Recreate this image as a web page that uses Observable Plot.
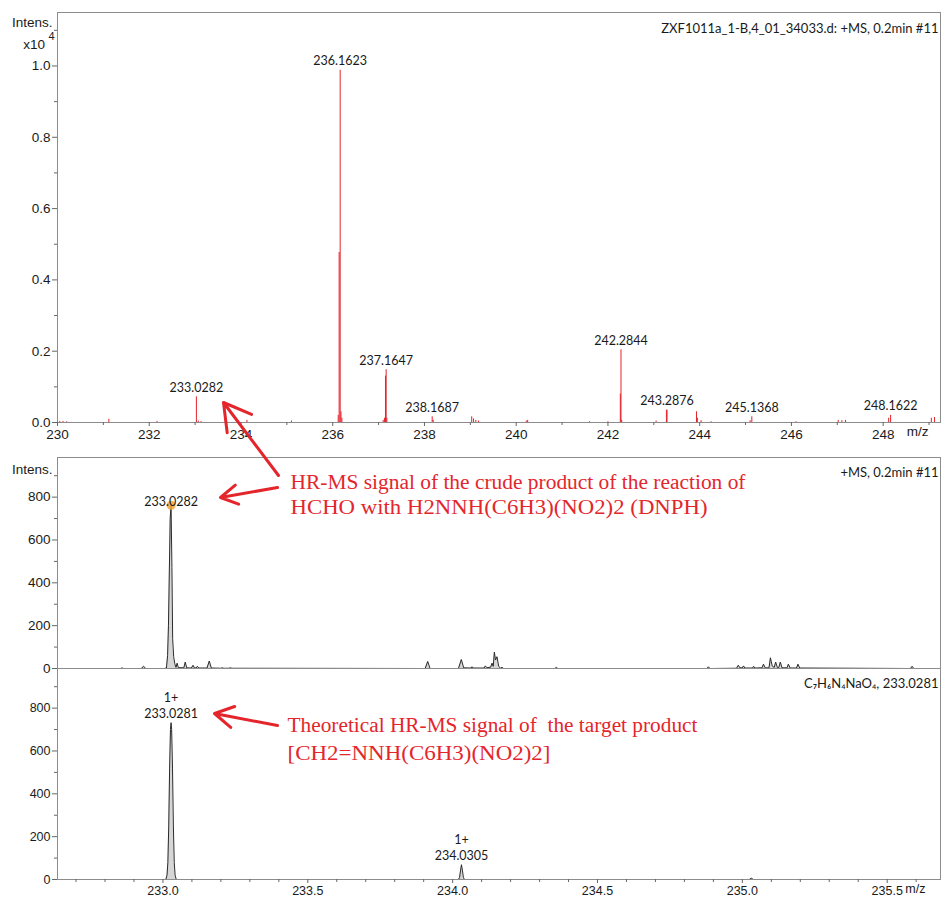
<!DOCTYPE html>
<html><head><meta charset="utf-8">
<script src="https://cdn.jsdelivr.net/npm/d3@7"></script>
<script src="https://cdn.jsdelivr.net/npm/@observablehq/plot@0.6"></script>
<style>
html,body{margin:0;padding:0;background:#fff;}
#root{position:relative;width:941px;height:901px;overflow:hidden;background:#fff;}
#root svg{position:absolute;left:0;}
</style></head><body><div id="root"></div>
<script>
// ---------------- DATA ----------------
const topTitle = "ZXF1011a_1-B,4_01_34033.d: +MS, 0.2min #11";
const midTitle = "+MS, 0.2min #11";
const botTitle = "C\u2087H\u2086N\u2084NaO\u2084, 233.0281";
const yLabel = "Intens.";
const yExpBase = "x10";
const yExp = "4";
const xLabel = "m/z";

// top panel: stick spectrum (m/z, intensity in x10^4)
const topMz = [230.05,230.12,230.20,231.12,232.17,233.0282,233.07,233.13,234.13,235.10,
  236.12,236.14,236.1623,236.18,236.20,237.10,237.13,237.15,237.1647,237.18,
  238.1687,238.19,239.03,239.07,239.12,239.18,240.22,240.25,241.60,242.00,
  242.27,242.2844,242.30,243.05,243.275,243.2876,243.93,243.95,244.03,244.25,
  245.10,245.1368,246.10,247.02,247.10,247.18,248.12,248.1622,249.05,249.12];
const topInt = [0.003,0.003,0.002,0.009,0.003,0.072,0.004,0.003,0.006,0.004,
  0.02,0.477,0.988,0.03,0.012,0.006,0.012,0.13,0.148,0.012,
  0.016,0.006,0.016,0.01,0.006,0.004,0.004,0.006,0.002,0.002,
  0.08,0.204,0.006,0.004,0.034,0.035,0.03,0.012,0.005,0.002,
  0.005,0.016,0.002,0.006,0.005,0.006,0.012,0.02,0.012,0.014];
const topLabelMz = [233.0282,236.1623,237.1647,238.1687,242.2844,243.2876,245.1368,248.1622];
const topLabelInt = [0.072,0.988,0.148,0.016,0.204,0.035,0.016,0.02];
const topXMajor = [230,232,234,236,238,240,242,244,246,248];
const topXMinor = [231,233,235,237,239,241,243,245,247,249];
const topYMajor = [0,0.2,0.4,0.6,0.8,1.0];
const topYMinor = [0.1,0.3,0.5,0.7,0.9,1.1];

// middle panel: measured profile
const midMz = [232.80,232.855,232.859,232.863,232.925,232.933,232.941,233.005,233.012,233.016,
  233.019,233.022,233.025,233.028,233.031,233.0335,233.037,233.041,233.045,233.049,
  233.053,233.072,233.077,233.082,233.098,233.104,233.109,233.115,233.119,233.124,
  233.152,233.160,233.167,233.200,233.205,233.210,233.228,233.233,233.238,233.905,
  233.914,233.922,234.020,234.030,234.038,234.063,234.067,234.071,234.108,234.113,
  234.118,234.131,234.136,234.140,234.144,234.148,234.153,234.159,234.165,234.171,
  234.176,234.353,234.358,234.363,234.878,234.883,234.888,234.980,234.986,234.992,
  235.000,235.004,235.009,235.035,235.039,235.044,235.068,235.073,235.079,235.092,
  235.097,235.103,235.110,235.115,235.121,235.126,235.131,235.137,235.154,235.159,
  235.165,235.187,235.192,235.198,235.580,235.586,235.592,235.62];
const midInt = [0,0,3,0,0,10,0,0,2,60,
  200,450,700,762,470,140,55,22,5,25,
  4,3,30,3,2,15,2,3,10,2,
  2,35,2,1,3,1,1,3,1,0,
  33,0,0,42,3,2,8,2,2,12,
  4,6,25,10,76,40,55,10,2,5,
  0,0,5,0,0,8,0,1,15,3,
  3,12,2,2,10,2,3,20,3,3,
  50,12,5,30,4,5,30,3,3,20,
  2,2,20,2,0,10,0,0];
const midPeakMz = [233.0282];
const midPeakInt = [762];
const midYMajor = [0,200,400,600,800];
const midYMinor = [100,300,500,700,900];

// bottom panel: theoretical profile
const botMz = [232.99,233.010,233.014,233.017,233.020,233.023,233.026,233.0281,233.030,233.033,
  233.036,233.039,233.042,233.046,234.020,234.024,234.027,234.0305,234.034,234.037,
  234.041,235.024,235.031,235.038,235.06];
const botInt = [0,0,20,80,250,520,700,732,700,520,
  250,80,20,0,0,10,40,69,40,10,
  0,0,6,0,0];
const botPeakMz = [233.0281,234.0305];
const botPeakInt = [732,69];
const botPeakCharge = ["1+","1+"];
const botXMajor = [233.0,233.5,234.0,234.5,235.0,235.5];
const botXMinor = [232.7,232.8,232.9,233.1,233.2,233.3,233.4,233.6,233.7,233.8,233.9,234.1,234.2,234.3,234.4,234.6,234.7,234.8,234.9,235.1,235.2,235.3,235.4,235.6];
const botYMajor = [0,200,400,600,800];
const botYMinor = [100,300,500,700,900];

const annotationText = [
  "HR-MS signal of the crude product of the reaction of",
  "HCHO with H2NNH(C6H3)(NO2)2 (DNPH)",
  "Theoretical HR-MS signal of  the target product",
  "[CH2=NNH(C6H3)(NO2)2]"
];

// ---------------- TABLES ----------------
const topPeaks = topMz.map((mz,i)=>({mz, v: topInt[i]}));
const topLabels = topLabelMz.map((mz,i)=>({mz, v: topLabelInt[i]}));
const midProfile = midMz.map((mz,i)=>({mz, v: midInt[i]}));
const midPeaks = midPeakMz.map((mz,i)=>({mz, v: midPeakInt[i]}));
const botProfile = botMz.map((mz,i)=>({mz, v: botInt[i]}));
const botPeaks = botPeakMz.map((mz,i)=>({mz, v: botPeakInt[i], c: botPeakCharge[i]}));

// ---------------- STYLE / LAYOUT ----------------
const RED = "#e2232a";
const ANN = "#e4262c";
const FRAME = "#8c8c8c";
const TXT = "#1a1a1a";
const SANS = "'Liberation Sans', Arial, sans-serif";
const LBL = "Lato, 'Open Sans', sans-serif";
const root = document.getElementById("root");
const fmt4 = d3.format(".4f");
const noText = () => "";

function place(svg, top){ svg.style.top = top + "px"; root.appendChild(svg); return svg; }

// ---- top panel ----
const p1 = Plot.plot({
  width: 941, height: 448, marginLeft: 57, marginRight: 1, marginTop: 12, marginBottom: 26,
  style: {background: "transparent", overflow: "visible", fontFamily: SANS, fontSize: "13.5px", color: TXT},
  x: {domain: [230, 249.25], axis: null},
  y: {domain: [0, 1.15], axis: null},
  marks: [
    Plot.ruleX(topPeaks, {x: "mz", y1: 0, y2: "v", stroke: RED, strokeWidth: 1}),
    Plot.frame({stroke: FRAME}),
    Plot.axisX(topXMajor, {anchor: "bottom", tickSize: 4, tickPadding: 3, label: null, stroke: "#666"}),
    Plot.axisX(topXMinor, {anchor: "bottom", tickSize: 3, tickFormat: noText, label: null, stroke: "#666"}),
    Plot.axisY(topYMajor, {anchor: "left", tickSize: 5, tickPadding: 2, tickFormat: d3.format(".1f"), label: null, stroke: "#666"}),
    Plot.axisY(topYMinor, {anchor: "left", tickSize: 3, tickFormat: noText, label: null, stroke: "#666"}),
    Plot.text(topLabels, {x: "mz", y: "v", text: d => fmt4(d.mz), dy: -9, fontFamily: LBL, fontSize: 12.5, fill: TXT}),
    Plot.text([topTitle], {frameAnchor: "top-right", dx: -2, dy: 11, textAnchor: "end", fontFamily: LBL, fontSize: 13, fill: TXT}),
    Plot.text([yLabel], {frameAnchor: "top-left", dx: -5, dy: 5, textAnchor: "end", fill: TXT}),
    Plot.text([yExpBase], {frameAnchor: "top-left", dx: -12.5, dy: 26.5, textAnchor: "end", fill: TXT}),
    Plot.text([yExp], {frameAnchor: "top-left", dx: -3, dy: 20, textAnchor: "end", fontSize: 11, fill: TXT}),
    Plot.text([xLabel], {frameAnchor: "bottom-right", dx: -12, dy: 13, fill: TXT})
  ]
});
place(p1, 0);

const midX = [232.636, 235.684];

// ---- middle panel ----
const p2 = Plot.plot({
  width: 941, height: 232, marginLeft: 57, marginRight: 1, marginTop: 17, marginBottom: 4,
  style: {background: "transparent", overflow: "visible", fontFamily: SANS, fontSize: "13.5px", color: TXT},
  x: {domain: midX, axis: null},
  y: {domain: [0, 985], axis: null},
  marks: [
    Plot.areaY(midProfile, {x: "mz", y: "v", fill: "#d6d6d6"}),
    Plot.line(midProfile, {x: "mz", y: "v", stroke: "#2a2a2a", strokeWidth: 1}),
    Plot.frame({stroke: FRAME}),
    Plot.axisY(midYMajor, {anchor: "left", tickSize: 5, tickPadding: 2, label: null, stroke: "#666"}),
    Plot.axisY(midYMinor, {anchor: "left", tickSize: 3, tickFormat: noText, label: null, stroke: "#666"}),
    Plot.dot(midPeaks, {x: "mz", y: "v", r: 4.5, fill: "#f2a53a", fillOpacity: 0.85, stroke: "none"}),
    Plot.text(midPeaks, {x: "mz", y: "v", text: d => fmt4(d.mz), dy: -3, fontFamily: LBL, fontSize: 12.5, fill: TXT}),
    Plot.text([midTitle], {frameAnchor: "top-right", dx: -2, dy: 10, textAnchor: "end", fontFamily: LBL, fontSize: 13, fill: TXT}),
    Plot.text([yLabel], {frameAnchor: "top-left", dx: -5, dy: 7, textAnchor: "end", fill: TXT})
  ]
});
place(p2, 440);

// ---- bottom panel ----
const p3 = Plot.plot({
  width: 941, height: 241, marginLeft: 57, marginRight: 1, marginTop: 8, marginBottom: 22,
  style: {background: "transparent", overflow: "visible", fontFamily: SANS, fontSize: "12.5px", color: TXT},
  x: {domain: midX, axis: null},
  y: {domain: [0, 985], axis: null},
  marks: [
    Plot.areaY(botProfile, {x: "mz", y: "v", fill: "#d6d6d6"}),
    Plot.line(botProfile, {x: "mz", y: "v", stroke: "#2a2a2a", strokeWidth: 1}),
    Plot.frame({stroke: FRAME}),
    Plot.axisX(botXMajor, {anchor: "bottom", tickSize: 4, tickPadding: 3, tickFormat: d3.format(".1f"), label: null, stroke: "#666"}),
    Plot.axisX(botXMinor, {anchor: "bottom", tickSize: 3, tickFormat: noText, label: null, stroke: "#666"}),
    Plot.axisY(botYMajor, {anchor: "left", tickSize: 5, tickPadding: 2, label: null, stroke: "#666"}),
    Plot.axisY(botYMinor, {anchor: "left", tickSize: 3, tickFormat: noText, label: null, stroke: "#666"}),
    Plot.text(botPeaks, {x: "mz", y: "v", text: d => fmt4(d.mz), dy: -9, fontFamily: LBL, fontSize: 12.5, fill: TXT}),
    Plot.text(botPeaks, {x: "mz", y: "v", text: "c", dy: -25, fontFamily: LBL, fontSize: 12.5, fill: TXT}),
    Plot.text([botTitle], {frameAnchor: "top-right", dx: -2, dy: 10, textAnchor: "end", fontFamily: LBL + ", 'DejaVu Sans'", fontSize: 13, fill: TXT}),
    Plot.text([xLabel], {frameAnchor: "bottom-right", dx: -15, dy: 13, fill: TXT})
  ]
});
place(p3, 660);

// ---- annotation overlay (pixel coordinates) ----
const annLayout = [
  {x: 290, y: 481.7, w: 455},
  {x: 290, y: 506.7, w: 417},
  {x: 287, y: 724.7, w: 410},
  {x: 287, y: 753, w: 263}
];
const annRows = annotationText.map((t,i)=>({text: t, ...annLayout[i]}));
const arrowRows = [
  {x1: 278, y1: 475, x2: 223, y2: 402},
  {x1: 277, y1: 487, x2: 220, y2: 497},
  {x1: 277, y1: 725, x2: 214, y2: 713}
];
const ov = Plot.plot({
  width: 941, height: 901, margin: 0,
  style: {background: "transparent", overflow: "visible"},
  x: {type: "identity", axis: null},
  y: {type: "identity", axis: null},
  marks: [
    Plot.arrow(arrowRows, {x1: "x1", y1: "y1", x2: "x2", y2: "y2", stroke: ANN, strokeWidth: 3, headLength: 17, headAngle: 60}),
    Plot.text(annRows, {x: "x", y: "y", text: "text", textAnchor: "start", fontFamily: "'Liberation Serif', 'DejaVu Serif', serif", fontSize: 20, fill: ANN})
  ]
});
place(ov, 0);
d3.select(ov).selectAll("text").each(function(d, i){
  const row = annRows[i];
  if (row) { this.setAttribute("textLength", row.w); this.setAttribute("lengthAdjust", "spacingAndGlyphs"); }
});
</script></body></html>
